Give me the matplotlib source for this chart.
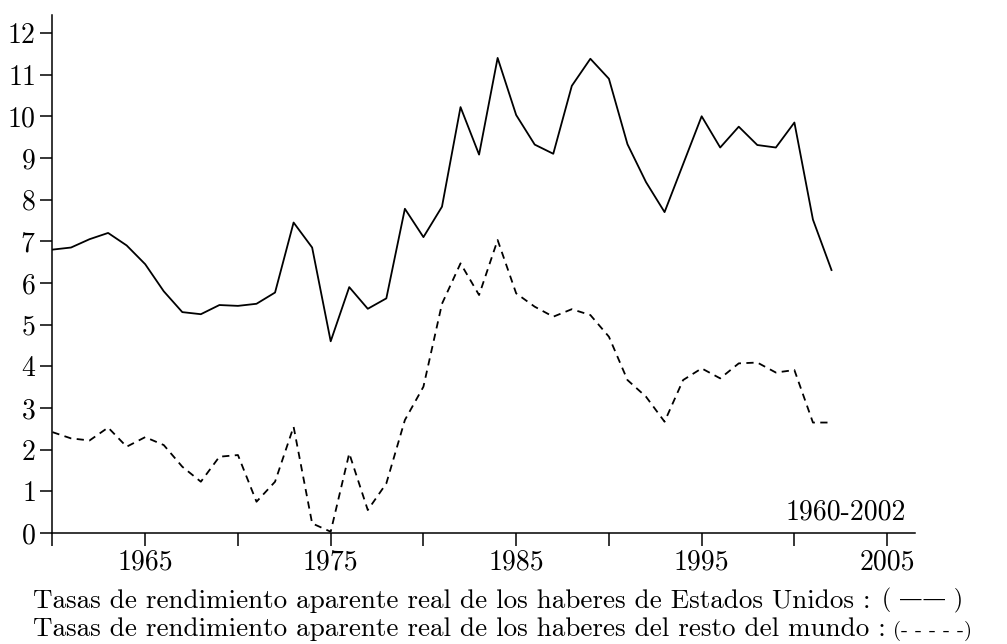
import matplotlib
matplotlib.use("Agg")
import matplotlib.pyplot as plt

years = list(range(1960, 2003))

# tasas de rendimiento, Estados Unidos (linea continua)
usa = [6.8, 6.85, 7.05, 7.2, 6.9, 6.45, 5.8, 5.3, 5.25, 5.47,
       5.45, 5.5, 5.77, 7.45, 6.85, 4.6, 5.9, 5.38, 5.63, 7.78,
       7.1, 7.83, 10.22, 9.08, 11.4, 10.03, 9.32, 9.1, 10.73, 11.38,
       10.9, 9.33, 8.42, 7.7, 8.85, 10.0, 9.25, 9.75, 9.31, 9.25,
       9.85, 7.52, 6.31]

# resto del mundo (linea discontinua)
rdm = [2.42, 2.27, 2.22, 2.53, 2.07, 2.3, 2.11, 1.59, 1.23, 1.83,
       1.87, 0.75, 1.23, 2.55, 0.23, 0.03, 1.91, 0.55, 1.19, 2.71,
       3.51, 5.5, 6.47, 5.71, 7.03, 5.75, 5.43, 5.19, 5.37, 5.23,
       4.71, 3.67, 3.27, 2.67, 3.67, 3.95, 3.71, 4.07, 4.09, 3.85,
       3.91, 2.65, 2.65]

xticks = list(range(1960, 2006, 5))
xlabels = ["" if y % 10 == 0 else str(y) for y in xticks]
yticks = list(range(0, 13))

plt.rcParams["font.family"] = ["cmr10", "DejaVu Serif"]
plt.rcParams["axes.formatter.use_mathtext"] = True

fig = plt.figure(figsize=(10.07, 6.44), dpi=100)
ax = fig.add_axes([0.0521, 0.1724, 0.8565, 0.8043])

ax.plot(years, usa, color="black", lw=1.3)
ax.plot(years, rdm, color="black", lw=1.3, dashes=(4, 3))

ax.set_xlim(1960, 2006.5)
ax.set_ylim(0, 12.43)
ax.spines["top"].set_visible(False)
ax.spines["right"].set_visible(False)
ax.spines["left"].set_linewidth(1.1)
ax.spines["bottom"].set_linewidth(1.1)

ax.set_xticks(xticks)
ax.set_xticklabels(xlabels)
ax.set_yticks(yticks)
ax.tick_params(direction="out", length=9, width=1.1, labelsize=20, pad=3)

ax.text(2006.0, 0.5, "1960-2002", ha="right", va="center", fontsize=20)

t1 = fig.text(33 / 1007, 1 - 608 / 644,
              "Tasas de rendimiento aparente real de los haberes de Estados Unidos :",
              fontsize=19.5, ha="left", va="baseline")
t2 = fig.text(33 / 1007, 1 - 636 / 644,
              "Tasas de rendimiento aparente real de los haberes del resto del mundo :",
              fontsize=19.5, ha="left", va="baseline")
ax.annotate("( \u2014\u2014 )", xy=(1, 0), xycoords=t1, xytext=(8, 0),
            textcoords="offset points", fontsize=17, va="bottom",
            annotation_clip=False)
ax.annotate("(- - - - -)", xy=(1, 0), xycoords=t2, xytext=(5, 0),
            textcoords="offset points", fontsize=15, va="bottom",
            annotation_clip=False)

fig.savefig("out.png", dpi=100)
